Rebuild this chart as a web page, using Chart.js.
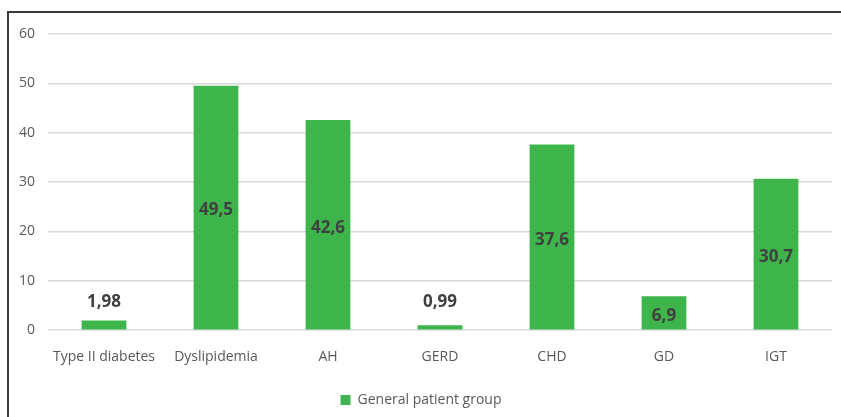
<!DOCTYPE html>
<html>
<head>
<meta charset="utf-8">
<script src="https://cdn.jsdelivr.net/npm/chart.js@4/dist/chart.umd.min.js"></script>
<style>
  html, body { margin: 0; padding: 0; background: #ffffff; }
  #wrap { position: relative; width: 841px; height: 417px; overflow: hidden; }
  #frame { position: absolute; left: 7px; top: 11px; right: -5px; bottom: -5px;
           border-left: 2px solid #3a3a3a; border-top: 2px solid #3a3a3a; }
  canvas { position: absolute; left: 0; top: 0; }
</style>
</head>
<body>
<div id="wrap">
  <div id="frame"></div>
  <canvas id="chart" width="841" height="417"></canvas>
</div>
<script>
// Prevalence by condition, general patient group
const categories = ["Type II diabetes", "Dyslipidemia", "AH", "GERD", "CHD", "GD", "IGT"];
const generalGroup = [1.98, 49.5, 42.6, 0.99, 37.6, 6.9, 30.7];
const seriesName = "General patient group";
const yTicks = [0, 10, 20, 30, 40, 50, 60];

const barColor = "#3db54a";
const textGray = "#595959";

// Writes each bar's value (decimal comma) inside the bar, or above it when the bar is too short
const valueLabels = {
  id: "valueLabels",
  afterDatasetsDraw(chart) {
    const ctx = chart.ctx;
    const meta = chart.getDatasetMeta(0);
    ctx.save();
    ctx.font = "bold 17px 'Open Sans', sans-serif";
    ctx.fillStyle = "#404040";
    ctx.textAlign = "center";
    ctx.textBaseline = "middle";
    meta.data.forEach((bar, i) => {
      const v = chart.data.datasets[0].data[i];
      const txt = String(v).replace(".", ",");
      const h = bar.base - bar.y;
      let y;
      if (h < 20) {
        y = Math.min(bar.y, bar.base - 10) - 17;
      } else {
        y = (bar.y + bar.base) / 2 + 3;
      }
      ctx.fillText(txt, bar.x, y);
    });
    ctx.restore();
  }
};

new Chart(document.getElementById("chart"), {
  type: "bar",
  data: {
    labels: categories,
    datasets: [{
      label: seriesName,
      data: generalGroup,
      backgroundColor: barColor,
      borderWidth: 0,
      categoryPercentage: 1.0,
      barPercentage: 0.4
    }]
  },
  options: {
    responsive: false,
    animation: false,
    devicePixelRatio: 1,
    layout: { padding: { left: 10, right: 9, top: 34, bottom: 0 } },
    scales: {
      y: {
        min: 0,
        max: 60,
        afterBuildTicks(scale) { scale.ticks = yTicks.map(v => ({ value: v })); },
        afterFit(scale) { scale.width = 38; },
        grid: { color: "#d9d9d9", lineWidth: 1.5, drawTicks: false },
        border: { display: false },
        ticks: {
          color: textGray,
          padding: 13,
          font: { family: "'Open Sans', sans-serif", size: 14 }
        }
      },
      x: {
        grid: { display: false },
        border: { display: false },
        ticks: {
          color: textGray,
          padding: 10,
          maxRotation: 0,
          font: { family: "'Open Sans', sans-serif", size: 14 }
        }
      }
    },
    plugins: {
      legend: {
        position: "bottom",
        labels: {
          color: textGray,
          boxWidth: 10,
          boxHeight: 10,
          padding: 18,
          font: { family: "'Open Sans', sans-serif", size: 14 }
        }
      },
      tooltip: { enabled: false }
    }
  },
  plugins: [valueLabels]
});
</script>
</body>
</html>
